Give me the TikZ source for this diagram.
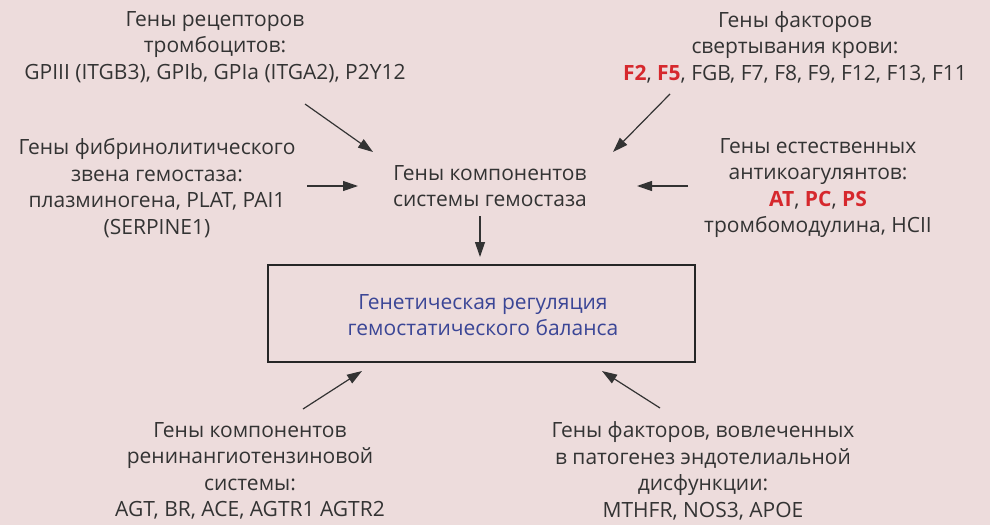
\documentclass[tikz,border=0pt]{standalone}
\usepackage{fontspec}
\setmainfont{Open Sans}
\usetikzlibrary{arrows.meta}
\definecolor{bgpink}{HTML}{EDDCDC}
\definecolor{txtgray}{HTML}{333333}
\definecolor{hlred}{HTML}{D6282D}
\definecolor{titleblue}{HTML}{3B4696}
\tikzset{
  lbl/.style={align=center, text=txtgray, font=\fontsize{21}{26.5}\selectfont, inner sep=0pt},
  conn/.style={draw=txtgray, line width=1.2pt, -{Triangle[length=15pt,width=10pt]}},
  mainbox/.style={draw=black!85, line width=2.8pt, minimum width=427pt, minimum height=97pt},
}
\newcommand{\hl}[1]{\textcolor{hlred}{\bfseries #1}}
\begin{document}
\begin{tikzpicture}[x=1pt,y=-1pt]
\fill[bgpink] (0,0) rectangle (990,525);
\useasboundingbox (0,0) rectangle (990,525);

\node[lbl] (tl) at (215,47) {Гены рецепторов\\тромбоцитов:\\GPIII (ITGB3), GPIb, GPIa (ITGA2), P2Y12};
\node[lbl] (tr) at (795,47) {Гены факторов\\свертывания крови:\\\hl{F2}, \hl{F5}, FGB, F7, F8, F9, F12, F13, F11};
\node[lbl] (ml) at (157,188) {Гены фибринолитического\\звена гемостаза:\\плазминогена, PLAT, PAI1\\(SERPINE1)};
\node[lbl] (mr) at (818,188) {Гены естественных\\антикоагулянтов:\\\hl{AT}, \hl{PC}, \hl{PS}\\тромбомодулина, HCII};
\node[lbl] (ctr) at (490,186) {Гены компонентов\\системы гемостаза};
\node[mainbox] (box) at (481.5,313.5) {};
\node[lbl, text=titleblue] (boxt) at (483,315) {Генетическая регуляция\\гемостатического баланса};
\node[lbl] (bl) at (250,471) {Гены компонентов\\ренинангиотензиновой\\системы:\\AGT, BR, ACE, AGTR1 AGTR2};
\node[lbl] (br) at (703,471) {Гены факторов, вовлеченных\\в патогенез эндотелиальной\\дисфункции:\\MTHFR, NOS3, APOE};

\coordinate (tlA) at (305,104);
\coordinate (tlB) at (373,152);
\coordinate (trA) at (670,94);
\coordinate (trB) at (613,152);
\coordinate (mlA) at (307,186);
\coordinate (mlB) at (358,186);
\coordinate (mrA) at (688,186);
\coordinate (mrB) at (637,186);
\coordinate (cA) at (480,216);
\coordinate (cB) at (480,257);
\coordinate (blA) at (303,409);
\coordinate (blB) at (362,371);
\coordinate (brA) at (660,408);
\coordinate (brB) at (602,371);

\draw[conn] (tlA) -- (tlB);
\draw[conn] (trA) -- (trB);
\draw[conn] (mlA) -- (mlB);
\draw[conn] (mrA) -- (mrB);
\draw[conn] (cA) -- (cB);
\draw[conn] (blA) -- (blB);
\draw[conn] (brA) -- (brB);
\end{tikzpicture}
\end{document}
